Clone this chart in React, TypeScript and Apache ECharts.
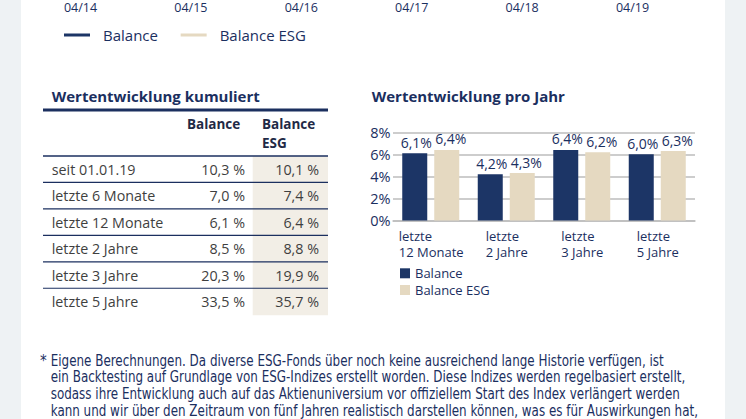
import React, { useEffect, useRef } from 'react';
import * as echarts from 'echarts';

// ---- data ----
const timeLabels = ['04/14', '04/15', '04/16', '04/17', '04/18', '04/19'];
const seriesNames = ['Balance', 'Balance ESG'];

const tableTitle = 'Wertentwicklung kumuliert';
const tableHeaderBalance = ['Balance'];
const tableHeaderEsg = ['Balance', 'ESG'];
const tableRowLabels = ['seit 01.01.19', 'letzte 6 Monate', 'letzte 12 Monate', 'letzte 2 Jahre', 'letzte 3 Jahre', 'letzte 5 Jahre'];
const tableBalance = [10.3, 7.0, 6.1, 8.5, 20.3, 33.5];
const tableEsg = [10.1, 7.4, 6.4, 8.8, 19.9, 35.7];

const chartTitle = 'Wertentwicklung pro Jahr';
const periodCategories = ['letzte\n12 Monate', 'letzte\n2 Jahre', 'letzte\n3 Jahre', 'letzte\n5 Jahre'];
const balancePerYear = [6.1, 4.2, 6.4, 6.0];
const esgPerYear = [6.4, 4.3, 6.2, 6.3];
const yMin = 0;
const yMax = 8;
const yInterval = 2;

const footnoteLines = [
  'Eigene Berechnungen. Da diverse ESG-Fonds über noch keine ausreichend lange Historie verfügen, ist',
  'ein Backtesting auf Grundlage von ESG-Indizes erstellt worden. Diese Indizes werden regelbasiert erstellt,',
  'sodass ihre Entwicklung auch auf das Aktienuniversium vor offiziellem Start des Index verlängert werden',
  'kann und wir über den Zeitraum von fünf Jahren realistisch darstellen können, was es für Auswirkungen hat,',
];

// ---- styles ----
const FONT = '"Open Sans", "Noto Sans", sans-serif';
const FONT_NARROW = '"Liberation Sans Narrow", "DejaVu Sans Condensed", sans-serif';
const NAVY = '#1b2f5f';
const NAVY_BAR = '#1c3566';
const BEIGE = '#e5d9c1';
const ESG_BG = '#f2eee6';
const GRID_GRAY = '#bdbdbd';
const TEXT_GRAY = '#3f3f3f';
const HEAD_COLOR = '#1f2a46';
const seriesColors = [NAVY_BAR, BEIGE];

const fmtPct = (v: number) => v.toFixed(1).replace('.', ',') + '%';
const fmtPctSpaced = (v: number) => v.toFixed(1).replace('.', ',') + ' %';

function buildTableGraphics(): any[] {
  const els: any[] = [];
  const left = 43;
  const right = 328;
  const headerLineY = 156;
  const rowH = 26.45;
  const nRows = tableRowLabels.length;

  els.push({
    type: 'rect',
    shape: { x: 252.7, y: headerLineY, width: right - 252.7, height: rowH * nRows + 0.5 },
    style: { fill: ESG_BG },
    silent: true,
  });
  els.push({
    type: 'text',
    x: 51.7,
    y: 96,
    style: { text: tableTitle, fill: NAVY, font: `bold 15px ${FONT}`, align: 'left', verticalAlign: 'middle' },
  });
  els.push({
    type: 'text',
    x: 371.7,
    y: 96,
    style: { text: chartTitle, fill: NAVY, font: `bold 15px ${FONT}`, align: 'left', verticalAlign: 'middle' },
  });
  els.push({ type: 'rect', shape: { x: left, y: 108.5, width: right - left, height: 3 }, style: { fill: NAVY } });

  tableHeaderBalance.forEach((t, i) => {
    els.push({
      type: 'text', x: 187, y: 124 + i * 19,
      style: { text: t, fill: HEAD_COLOR, font: `bold 13.5px ${FONT}`, align: 'left', verticalAlign: 'middle' },
    });
  });
  tableHeaderEsg.forEach((t, i) => {
    els.push({
      type: 'text', x: 262, y: 124 + i * 19,
      style: { text: t, fill: HEAD_COLOR, font: `bold 13.5px ${FONT}`, align: 'left', verticalAlign: 'middle' },
    });
  });

  for (let i = 0; i < nRows; i++) {
    const top = headerLineY + i * rowH;
    els.push({
      type: 'line',
      shape: { x1: left, y1: top, x2: right, y2: top },
      style: { stroke: NAVY, lineWidth: i === 0 ? 1.5 : 1.2 },
    });
    const cy = top + rowH / 2;
    els.push({
      type: 'text', x: 51.7, y: cy,
      style: { text: tableRowLabels[i], fill: TEXT_GRAY, font: `14.3px ${FONT}`, align: 'left', verticalAlign: 'middle' },
    });
    els.push({
      type: 'text', x: 245, y: cy,
      style: { text: fmtPctSpaced(tableBalance[i]), fill: TEXT_GRAY, font: `14.3px ${FONT}`, align: 'right', verticalAlign: 'middle' },
    });
    els.push({
      type: 'text', x: 319, y: cy,
      style: { text: fmtPctSpaced(tableEsg[i]), fill: TEXT_GRAY, font: `14.3px ${FONT}`, align: 'right', verticalAlign: 'middle' },
    });
  }

  // footnote
  els.push({
    type: 'text', x: 40, y: 352.3,
    style: { text: '*', fill: NAVY, font: `15px ${FONT_NARROW}`, align: 'left', verticalAlign: 'top', lineHeight: 16.6 },
  });
  els.push({
    type: 'text', x: 50.7, y: 352.3, scaleX: 0.885, scaleY: 1,
    style: { text: footnoteLines.join('\n'), fill: NAVY, font: `15px ${FONT_NARROW}`, align: 'left', verticalAlign: 'top', lineHeight: 16.6 },
  });
  return els;
}

export default function App() {
  const ref = useRef<HTMLDivElement>(null);

  useEffect(() => {
    if (!ref.current) return;
    const chart = echarts.init(ref.current, undefined, { renderer: 'svg' });

    const barLabel = (dx: number) => ({
      show: true,
      position: 'top',
      distance: 4,
      offset: [dx, 0],
      formatter: (p: any) => fmtPct(p.value),
      fontSize: 14,
      fontFamily: FONT,
      color: NAVY,
    });

    const option: any = {
      animation: false,
      textStyle: { fontFamily: FONT },
      grid: [
        { left: 80.5, right: 113.5, top: 0, height: 1 },
        { left: 393, right: 51, top: 132.3, height: 88.2 },
      ],
      xAxis: [
        {
          type: 'category',
          gridIndex: 0,
          data: timeLabels,
          boundaryGap: false,
          axisLine: { show: false },
          axisTick: { show: false },
          splitLine: { show: false },
          axisLabel: { margin: 0, fontSize: 12.5, lineHeight: 13, color: NAVY, fontFamily: FONT, interval: 0 },
        },
        {
          type: 'category',
          gridIndex: 1,
          data: periodCategories,
          axisLine: { show: true, lineStyle: { color: GRID_GRAY, width: 1.5 } },
          axisTick: { show: false },
          axisLabel: {
            margin: 7.7,
            interval: 0,
            formatter: (v: string, i: number) =>
              v.split('\n').map((s) => `{${i === 0 ? 'w' : 'n'}|${s}}`).join('\n'),
            rich: {
              w: { width: 64, align: 'left', fontSize: 13, lineHeight: 15.6, color: NAVY, fontFamily: FONT },
              n: { width: 41, align: 'left', fontSize: 13, lineHeight: 15.6, color: NAVY, fontFamily: FONT },
            },
          },
        },
      ],
      yAxis: [
        { type: 'value', gridIndex: 0, show: false },
        {
          type: 'value',
          gridIndex: 1,
          min: yMin,
          max: yMax,
          interval: yInterval,
          axisLine: { show: false },
          axisTick: { show: false },
          splitLine: { lineStyle: { color: GRID_GRAY, width: 1.5 } },
          axisLabel: { formatter: '{value}%', fontSize: 14.5, color: NAVY, margin: 2.5, fontFamily: FONT },
        },
      ],
      legend: [
        {
          data: seriesNames.map((n, i) => ({ name: n, itemStyle: { color: seriesColors[i] } })),
          left: 64,
          top: 26,
          padding: 0,
          icon: 'rect',
          itemWidth: 26,
          itemHeight: 3,
          itemGap: 22.7,
          selectedMode: false,
          textStyle: { fontSize: 15, lineHeight: 18, color: NAVY, fontFamily: FONT, padding: [0, 0, 0, 8] },
        },
        {
          data: seriesNames.map((n, i) => ({ name: n, itemStyle: { color: seriesColors[i] } })),
          orient: 'vertical',
          left: 400,
          top: 266.3,
          padding: 0,
          icon: 'rect',
          itemWidth: 10,
          itemHeight: 10,
          itemGap: 2.7,
          selectedMode: false,
          textStyle: { fontSize: 13, lineHeight: 14, color: NAVY, fontFamily: FONT },
        },
      ],
      series: [
        { type: 'line', name: seriesNames[0], xAxisIndex: 0, yAxisIndex: 0, data: [], color: NAVY_BAR, showSymbol: false, lineStyle: { width: 3 } },
        { type: 'line', name: seriesNames[1], xAxisIndex: 0, yAxisIndex: 0, data: [], color: BEIGE, showSymbol: false, lineStyle: { width: 3 } },
        {
          type: 'bar', name: seriesNames[0], xAxisIndex: 1, yAxisIndex: 1, data: balancePerYear,
          barWidth: 25, barGap: '28%', itemStyle: { color: NAVY_BAR }, label: barLabel(1.5),
        },
        {
          type: 'bar', name: seriesNames[1], xAxisIndex: 1, yAxisIndex: 1, data: esgPerYear,
          barWidth: 25, barGap: '28%', itemStyle: { color: BEIGE }, label: barLabel(4),
        },
      ],
      graphic: buildTableGraphics(),
    };

    chart.setOption(option);
    return () => chart.dispose();
  }, []);

  return (
    <div style={{ position: 'absolute', left: 0, top: 0, width: 746, height: 419, background: '#eef2f4', overflow: 'hidden' }}>
      <div style={{ position: 'absolute', left: 21, top: 0, width: 704, height: 419, background: '#ffffff' }} />
      <div ref={ref} style={{ position: 'absolute', left: 0, top: 0, width: 746, height: 419 }} />
    </div>
  );
}
